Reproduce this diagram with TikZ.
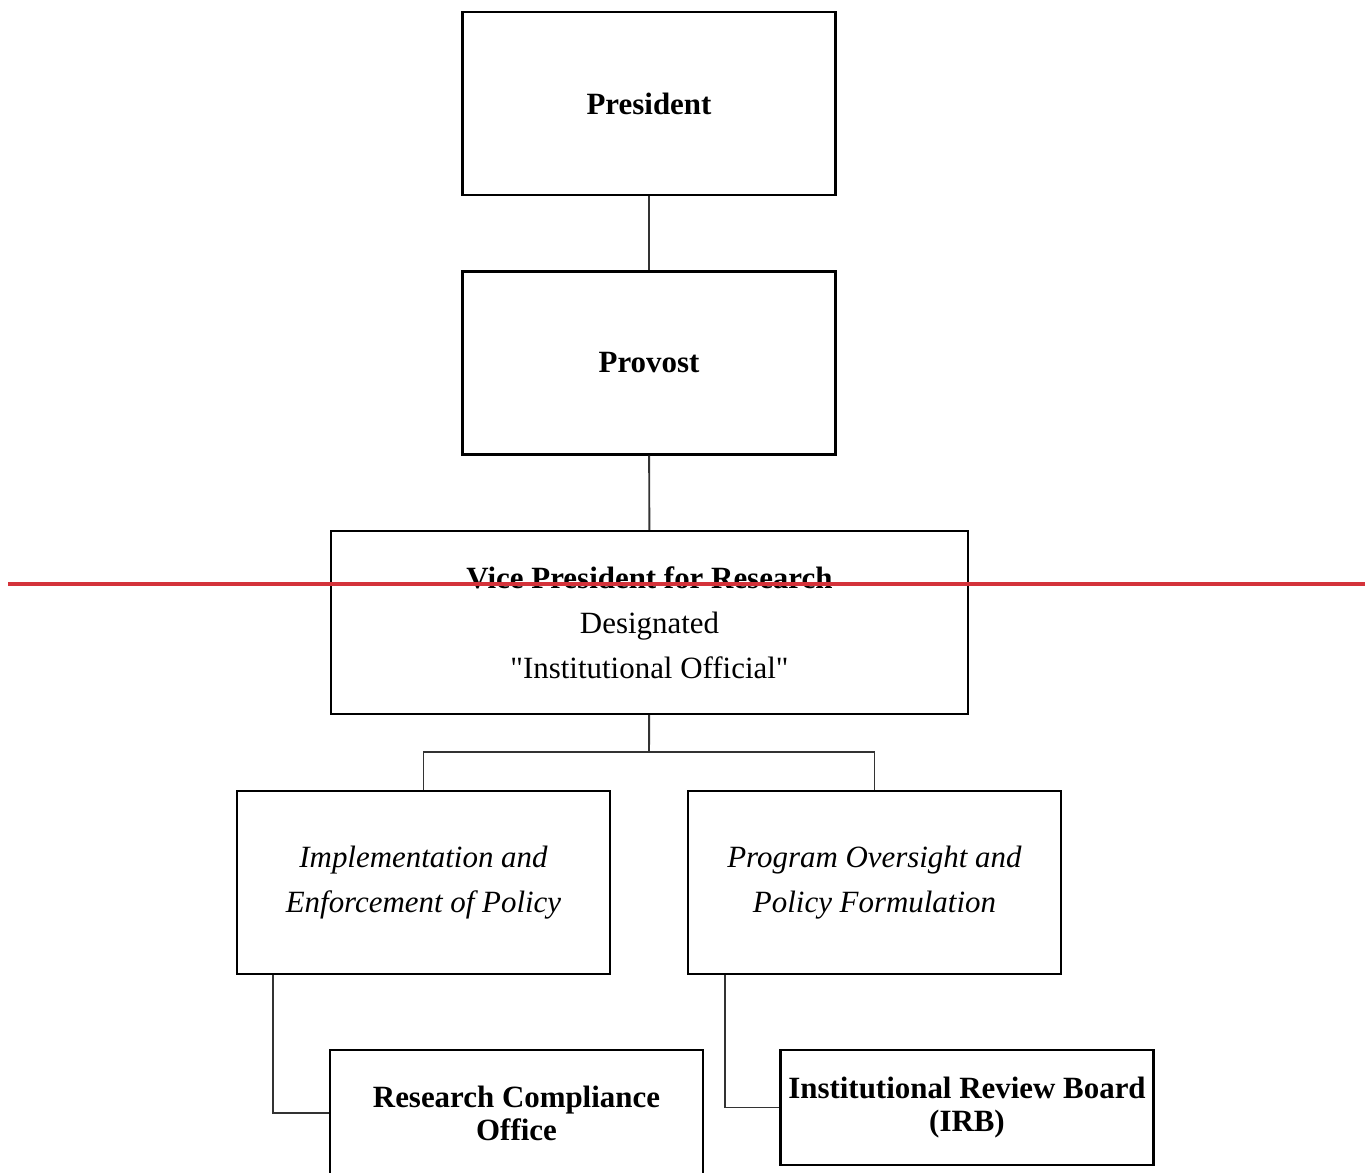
\documentclass[tikz,border=0pt]{standalone}
\usepackage{fontspec}
\setmainfont{Liberation Serif}[Ligatures=TeXOff]
\definecolor{strike}{RGB}{212,50,58}
\begin{document}
\begin{tikzpicture}[x=0.02cm,y=-0.02cm,
  box/.style={draw,line width=1.4pt,inner sep=0pt,align=center,minimum width=7.47cm,minimum height=3.66cm,font=\fontsize{17.6}{25.5}\selectfont},
  lowbox/.style={box,font=\fontsize{17.6}{18.7}\selectfont},
  link/.style={draw=black!80,line width=1.1pt}]
\clip (0,0) rectangle (1367,1173);

\node [box] (pres) at (649,103.5) {\textbf{President}};
\node [box] (prov) at (649,363) {\textbf{Provost}};
\node [box,minimum width=12.74cm] (vp) at (649.5,622.5) {\textbf{Vice President for Research}\\Designated\\"Institutional Official"};
\node [box] (impl) at (423.5,882.5) {\itshape Implementation and\\\itshape Enforcement of Policy};
\node [box] (prog) at (874.5,882.5) {\itshape Program Oversight and\\\itshape Policy Formulation};
\node [lowbox,minimum height=2.52cm] (rco) at (516.5,1113) {\textbf{Research Compliance}\\\textbf{Office}};
\node [lowbox,minimum height=2.3cm] (irb) at (967,1107.5) {\textbf{Institutional Review Board}\\\textbf{(IRB)}};
\coordinate (split) at (649,752);

\draw [link] (pres) -- (prov);
\draw [link] (prov) -- (vp);
\draw [link] (vp) -- (split);
\draw [link] (impl.north) |- (split) -| (prog.north);
\draw [link] ([xshift=0.74cm]impl.south west) |- (rco.west);
\draw [link] ([xshift=0.76cm]prog.south west) |- (irb.west);

\draw [strike,line width=2.3pt] (8,584) -- (1365,584);
\end{tikzpicture}
\end{document}
